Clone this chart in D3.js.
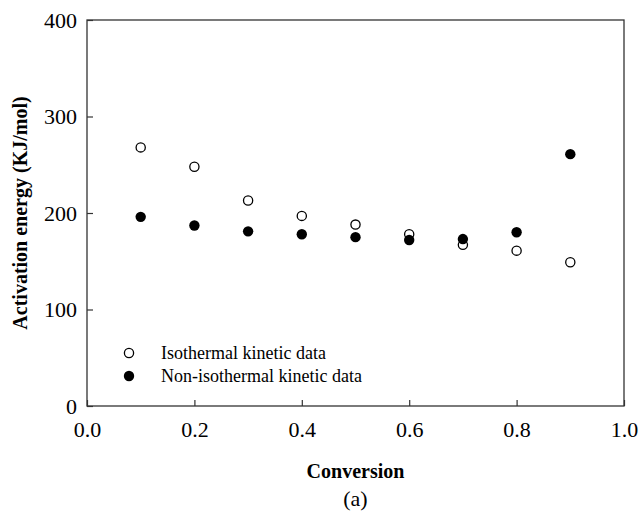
<!DOCTYPE html>
<html><head><meta charset="utf-8">
<script src="https://cdn.jsdelivr.net/npm/d3@7"></script>
<style>body{margin:0;background:#fff}svg{display:block;font-family:"Liberation Serif","Times New Roman",serif}</style>
</head><body><svg id="c" width="639" height="514"></svg>
<script>
const conversion = [0.1,0.2,0.3,0.4,0.5,0.6,0.7,0.8,0.9];
const isothermal = [268,248,213,197,188,178,167,161,149];
const nonIsothermal = [196,187,181,178,175,172,173,180,261];
const xTicks = [0,0.2,0.4,0.6,0.8,1.0];
const yTicks = [0,100,200,300,400];

const svg = d3.select("#c");
const L=87,R=624,T=20,B=406;
const x = d3.scaleLinear().domain([0,1]).range([L,R]);
const y = d3.scaleLinear().domain([0,400]).range([B,T]);
const axCol="#333";

svg.append("rect").attr("x",L).attr("y",T).attr("width",R-L).attr("height",B-T)
  .attr("fill","none").attr("stroke",axCol).attr("stroke-width",1.3);

const xa = svg.append("g").attr("transform",`translate(0,${B})`)
  .call(d3.axisBottom(x).tickValues(xTicks).tickSize(-6).tickPadding(15.5).tickFormat(d3.format(".1f")));
xa.select(".domain").remove();
xa.selectAll("line").attr("stroke",axCol).attr("stroke-width",1.2);
xa.selectAll("text").attr("font-size",22).attr("fill","#000").attr("font-family","Liberation Serif");

const ya = svg.append("g").attr("transform",`translate(${L},0)`)
  .call(d3.axisLeft(y).tickValues(yTicks).tickSize(-6).tickPadding(10).tickFormat(d3.format("d")));
ya.select(".domain").remove();
ya.selectAll("line").attr("stroke",axCol).attr("stroke-width",1.2);
ya.selectAll("text").attr("font-size",22).attr("fill","#000").attr("font-family","Liberation Serif");

svg.append("g").selectAll("circle").data(conversion).join("circle")
  .attr("cx",d=>x(d)).attr("cy",(d,i)=>y(isothermal[i])).attr("r",4.6)
  .attr("fill","#fff").attr("stroke","#000").attr("stroke-width",1.3);
svg.append("g").selectAll("circle").data(conversion).join("circle")
  .attr("cx",d=>x(d)).attr("cy",(d,i)=>y(nonIsothermal[i])).attr("r",5.2)
  .attr("fill","#000");

// legend
const lg = svg.append("g");
lg.append("circle").attr("cx",129).attr("cy",353).attr("r",4.6).attr("fill","#fff").attr("stroke","#000").attr("stroke-width",1.3);
lg.append("circle").attr("cx",129).attr("cy",376).attr("r",5.2).attr("fill","#000");
lg.append("text").attr("x",161).attr("y",359).attr("font-size",18).text("Isothermal kinetic data");
lg.append("text").attr("x",161).attr("y",382).attr("font-size",18).text("Non-isothermal kinetic data");

svg.append("text").attr("x",(L+R)/2).attr("y",478).attr("text-anchor","middle")
  .attr("font-size",20).attr("font-weight","bold").text("Conversion");
svg.append("text").attr("transform",`translate(27,${(T+B)/2}) rotate(-90)`).attr("text-anchor","middle")
  .attr("font-size",20).attr("font-weight","bold").text("Activation energy (KJ/mol)");
svg.append("text").attr("x",(L+R)/2).attr("y",506).attr("text-anchor","middle")
  .attr("font-size",22).text("(a)");
</script></body></html>
